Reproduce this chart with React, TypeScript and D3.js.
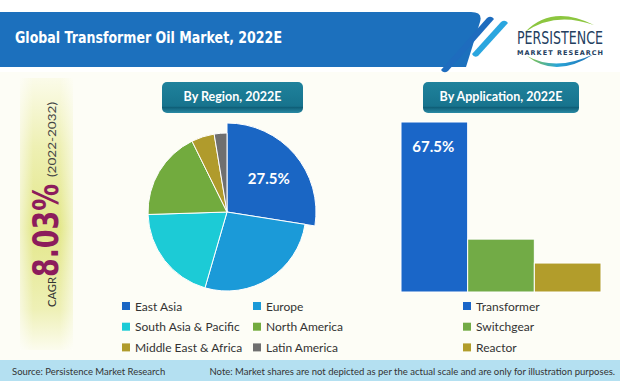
import React from "react";
import * as d3 from "d3";

const regionLabels = ["East Asia", "Europe", "South Asia & Pacific", "North America", "Middle East & Africa", "Latin America"];
const regionShares = [27.5, 27.0, 20.0, 18.2, 4.7, 2.6];
const regionColors = ["#1a66c4", "#1b9ad8", "#1ccbd6", "#72ab3e", "#b09b2c", "#6f6f6f"];

const appLabels = ["Transformer", "Switchgear", "Reactor"];
const appShares = [67.5, 21.0, 11.5];
const appColors = ["#1a66c8", "#72ab46", "#b29d2b"];

const title = "Global Transformer Oil Market, 2022E";
const cagrValue = "8.03%";
const cagrPeriod = "(2022-2032)";

export default function App() {
  const W = 620, H = 381;
  const cx = 227, cy = 212, r = 79, rBig = 89;
  const pie = d3.pie<number>().sort(null).value((d) => d)(regionShares);
  const arc = d3.arc<d3.PieArcDatum<number>>().innerRadius(0);

  const x = d3.scaleBand<string>().domain(appLabels).range([401, 601]).padding(0);
  const y = d3.scaleLinear().domain([0, appShares[0]]).range([292, 122]);

  const font = "Lato, 'Open Sans', sans-serif";
  const ea = pie[0];
  const eaMid = (ea.startAngle + ea.endAngle) / 2;

  return (
    <svg width={W} height={H} style={{ position: "absolute", left: 0, top: 0 }} fontFamily={font}>
      <defs>
        <linearGradient id="cagrV" x1="0" y1="0" x2="0" y2="1">
          <stop offset="0%" stopColor="#fbfbe9" />
          <stop offset="25%" stopColor="#eef0b4" />
          <stop offset="55%" stopColor="#e3e78a" />
          <stop offset="85%" stopColor="#eef0b6" />
          <stop offset="100%" stopColor="#fcfcee" />
        </linearGradient>
        <linearGradient id="cagrH" x1="0" y1="0" x2="1" y2="0">
          <stop offset="0%" stopColor="#ffffff" stopOpacity="0.55" />
          <stop offset="25%" stopColor="#ffffff" stopOpacity="0" />
          <stop offset="75%" stopColor="#ffffff" stopOpacity="0" />
          <stop offset="100%" stopColor="#ffffff" stopOpacity="0.55" />
        </linearGradient>
        <linearGradient id="pill" x1="0" y1="0" x2="0" y2="1">
          <stop offset="0%" stopColor="#1f829c" />
          <stop offset="78%" stopColor="#17738d" />
          <stop offset="82%" stopColor="#0f5f78" />
          <stop offset="100%" stopColor="#2a8ba5" />
        </linearGradient>
        <linearGradient id="swoosh" x1="0" y1="0" x2="1" y2="0">
          <stop offset="0%" stopColor="#8cc63f" />
          <stop offset="45%" stopColor="#2aa5d6" />
          <stop offset="100%" stopColor="#1d6fb8" />
        </linearGradient>
      </defs>
      <rect x={0} y={0} width={W} height={H} fill="#fdfdf6" />
      <rect x={0} y={0} width={W} height={72} fill="#ffffff" />

      {/* header banner */}
      <path d="M0,12 L471,12 Q483,12 480,22 L466,67 L0,67 Z" fill="#1c70bd" />
      <path d="M441,70 L487,18 Q491,15 494,19 L448,71 Q444,74 441,70 Z" fill="#1e6cbe" />
      <path d="M472,54 L501,22 Q505,19 508,23 L478,56 Q474,58 472,54 Z" fill="#2aa6df" />
      <text x={15} y={43} fill="#ffffff" fontSize={16} fontWeight="bold" fontFamily="'DejaVu Sans', sans-serif" textLength={267} lengthAdjust="spacingAndGlyphs">{title}</text>

      {/* logo */}
      <path d="M525,32 Q552,4 594,25 Q555,11 525,32 Z" fill="#8cc63f" />
      <path d="M527,56 Q556,79 594,54 Q556,72 527,56 Z" fill="url(#swoosh)" />
      <text x={517} y={44} fill="#24405f" fontSize={17} fontFamily="'DejaVu Sans Condensed', 'DejaVu Sans', sans-serif" textLength={86} lengthAdjust="spacingAndGlyphs">PERSISTENCE</text>
      <text x={517} y={54.5} fill="#24405f" fontSize={6.5} fontWeight="bold" fontFamily="'DejaVu Sans', sans-serif" textLength={86} lengthAdjust="spacing">MARKET RESEARCH</text>

      {/* CAGR strip */}
      <rect x={20} y={78} width={53} height={272} fill="url(#cagrV)" />
      <rect x={20} y={78} width={53} height={272} fill="url(#cagrH)" />
      <text transform="translate(56,307) rotate(-90)" fontSize={12} fill="#333333" textLength={30} lengthAdjust="spacingAndGlyphs">CAGR</text>
      <text transform="translate(58,277) rotate(-90)" fontSize={36} fontWeight="bold" fill="#8c1c5c" fontFamily="'DejaVu Sans Condensed', 'DejaVu Sans', sans-serif" textLength={93} lengthAdjust="spacingAndGlyphs">{cagrValue}</text>
      <text transform="translate(56,177) rotate(-90)" fontSize={12} fill="#444444" textLength={75} lengthAdjust="spacingAndGlyphs">{cagrPeriod}</text>

      {/* pills */}
      <rect x={162} y={82} width={141} height={31} rx={5} fill="url(#pill)" />
      <text x={232.5} y={101} textAnchor="middle" fill="#ffffff" fontSize={12.5} fontWeight="bold">By Region, 2022E</text>
      <rect x={423} y={82} width={156} height={31} rx={5} fill="url(#pill)" />
      <text x={501} y={101} textAnchor="middle" fill="#ffffff" fontSize={12.5} fontWeight="bold">By Application, 2022E</text>

      {/* pie */}
      <g transform={`translate(${cx},${cy})`}>
        {pie.map((p, i) => (
          <path key={i} d={arc.outerRadius(i === 0 ? rBig : r)(p) as string} fill={regionColors[i]} stroke="#ffffff" strokeWidth={1} />
        ))}
        <text x={Math.sin(eaMid) * 55} y={-Math.cos(eaMid) * 55 + 8} textAnchor="middle" fill="#ffffff" fontSize={15} fontWeight="bold">{regionShares[0].toFixed(1)}%</text>
      </g>

      {/* bars */}
      {appShares.map((v, i) => (
        <rect key={i} x={x(appLabels[i])!} y={y(v)} width={x.bandwidth()} height={y(0) - y(v)} fill={appColors[i]} stroke="#ffffff" strokeWidth={1} />
      ))}
      <text x={x(appLabels[0])! + x.bandwidth() / 2 - 1} y={152} textAnchor="middle" fill="#ffffff" fontSize={15} fontWeight="bold">{appShares[0].toFixed(1)}%</text>

      {/* region legend */}
      {regionLabels.map((lab, i) => {
        const col = i % 2, row = Math.floor(i / 2);
        const lx = col === 0 ? 122 : 253;
        const ly = 306 + row * 20.7;
        return (
          <g key={lab}>
            <rect x={lx} y={ly - 4} width={8} height={8} fill={regionColors[i]} />
            <text x={lx + 13} y={ly + 4.5} fontSize={12} fill="#333333">{lab}</text>
          </g>
        );
      })}
      {appLabels.map((lab, i) => {
        const ly = 306 + i * 20.7;
        return (
          <g key={lab}>
            <rect x={463} y={ly - 4} width={8} height={8} fill={appColors[i]} />
            <text x={476} y={ly + 4.5} fontSize={12} fill="#333333">{lab}</text>
          </g>
        );
      })}

      {/* footer */}
      <rect x={0} y={360} width={W} height={21} fill="#b4e0f1" />
      <text x={12} y={375} fontSize={9.5} fill="#333333">Source: Persistence Market Research</text>
      <text x={615} y={375} fontSize={9.5} fill="#333333" textAnchor="end">Note: Market shares are not depicted as per the actual scale and are only for illustration purposes.</text>
    </svg>
  );
}
